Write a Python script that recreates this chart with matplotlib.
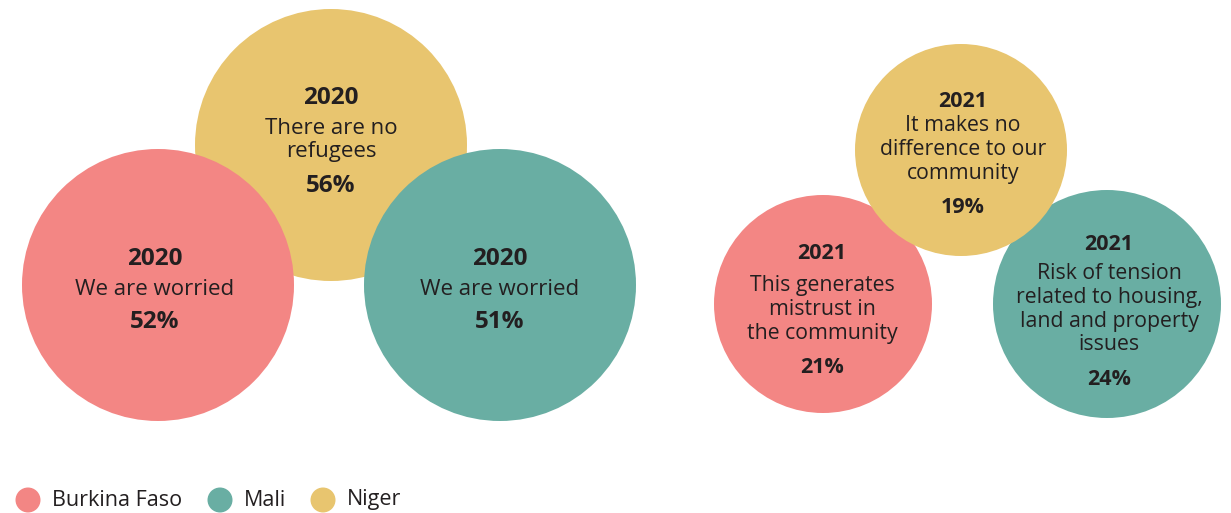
import matplotlib.pyplot as plt
from matplotlib.patches import Circle

plt.rcParams['font.family'] = ['Open Sans', 'DejaVu Sans']

# Data
countries = ["Burkina Faso", "Mali", "Niger"]
colors = {"Burkina Faso": "#F38684", "Mali": "#69AEA3", "Niger": "#E8C56F"}

years = ["2020", "2020", "2020", "2021", "2021", "2021"]
bubble_country = ["Niger", "Burkina Faso", "Mali", "Niger", "Burkina Faso", "Mali"]
labels = [
    "There are no\nrefugees",
    "We are worried",
    "We are worried",
    "It makes no\ndifference to our\ncommunity",
    "This generates\nmistrust in\nthe community",
    "Risk of tension\nrelated to housing,\nland and property\nissues",
]
values = [56, 52, 51, 19, 21, 24]

# Layout (pixel coords): circle x, y, radius, zorder, text x, year baseline,
# first label baseline, line step, percent baseline
layout = [
    (331, 145, 136, 1, 331, 104, 134, 23, 192),
    (158, 285, 136, 2, 155, 265, 295, 23, 328),
    (500, 285, 136, 2, 500, 265, 295, 23, 328),
    (961, 150, 106, 4, 963, 107, 131, 23.8, 213),
    (823, 304, 109, 3, 822, 259, 291, 23.8, 373),
    (1107, 304, 114, 3, 1109, 250, 279, 23.8, 385),
]

W, H = 1231, 513
fig = plt.figure(figsize=(W / 100, H / 100), dpi=100)
ax = fig.add_axes([0, 0, 1, 1])
ax.set_xlim(0, W)
ax.set_ylim(H, 0)
ax.axis("off")

txt = "#231F20"
for i in range(len(values)):
    cx, cy, r, z, tx, y_year, y_first, step, y_pct = layout[i]
    big = r > 120
    fs_bold = 17.5 if big else 15.5
    fs_lab = 16 if big else 15.3
    ax.add_patch(Circle((cx, cy), r, color=colors[bubble_country[i]], zorder=z, lw=0))
    ax.text(tx, y_year, years[i], ha="center", va="baseline", fontsize=fs_bold,
            fontweight="bold", color=txt, zorder=10)
    for k, line in enumerate(labels[i].split("\n")):
        ax.text(tx, y_first + k * step, line, ha="center", va="baseline",
                fontsize=fs_lab, color=txt, zorder=10)
    ax.text(tx, y_pct, f"{values[i]}%", ha="center", va="baseline",
            fontsize=fs_bold, fontweight="bold", color=txt, zorder=10)

# legend
lx = [28, 220, 323]
for x, c in zip(lx, countries):
    ax.add_patch(Circle((x, 500), 12.5, color=colors[c], lw=0))
    ax.text(x + 24, 500, c, ha="left", va="center", fontsize=15.5, color=txt)

fig.savefig("out.png", dpi=100)
